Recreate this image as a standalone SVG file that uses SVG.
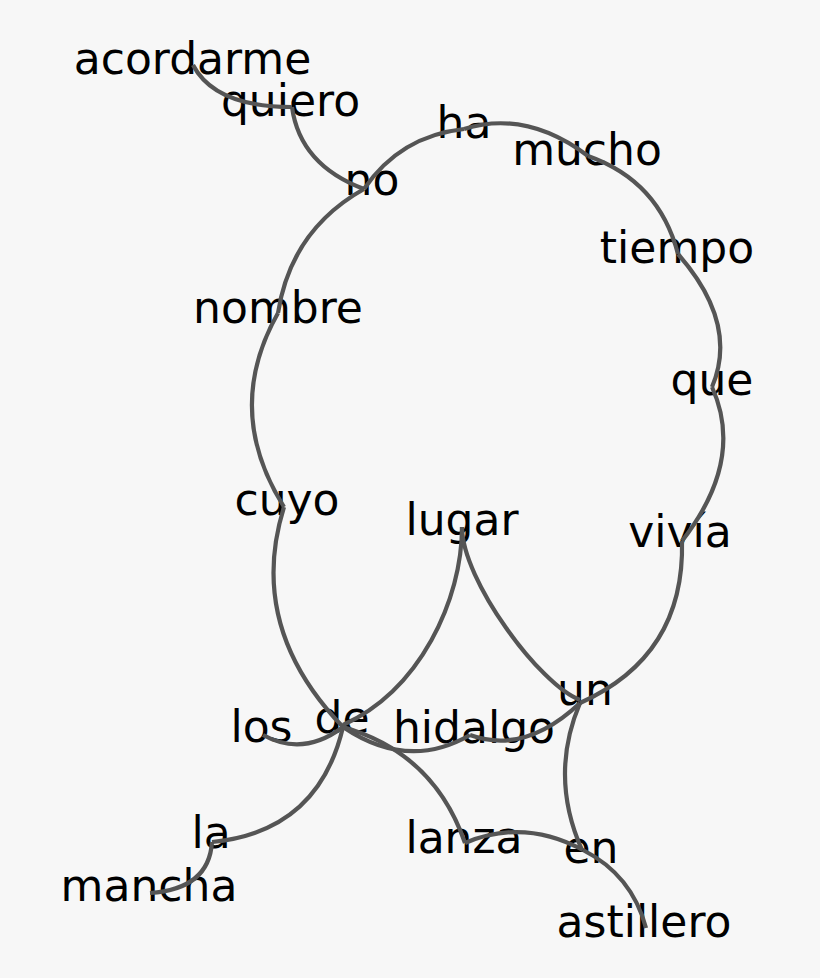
<svg xmlns="http://www.w3.org/2000/svg" width="820" height="978" viewBox="0 0 820 978">
<style>
.w{font-family:"DejaVu Sans","Verdana",sans-serif;font-size:44px;fill:#000;text-anchor:middle}
.e{fill:none;stroke:#555;stroke-width:4.2;stroke-linecap:butt}
</style>
<rect width="820" height="978" fill="#f7f7f7"/>
<g id="nodes">
<g id="n-acordarme"><text class="w" x="192.5" y="74">acordarme</text></g>
<g id="n-quiero"><text class="w" x="290.5" y="116">quiero</text></g>
<g id="n-no"><text class="w" x="372" y="195">no</text></g>
<g id="n-ha"><text class="w" x="464" y="138">ha</text></g>
<g id="n-mucho"><text class="w" x="587" y="165">mucho</text></g>
<g id="n-tiempo"><text class="w" x="677" y="263">tiempo</text></g>
<g id="n-nombre"><text class="w" x="278" y="323">nombre</text></g>
<g id="n-que"><text class="w" x="712" y="395">que</text></g>
<g id="n-cuyo"><text class="w" x="287" y="515">cuyo</text></g>
<g id="n-lugar"><text class="w" x="462" y="535">lugar</text></g>
<g id="n-vivia"><text class="w" x="680" y="547">vivía</text></g>
<g id="n-un"><text class="w" x="585" y="705">un</text></g>
<g id="n-los"><text class="w" x="261.5" y="742">los</text></g>
<g id="n-de"><text class="w" x="342" y="733">de</text></g>
<g id="n-hidalgo"><text class="w" x="474" y="743">hidalgo</text></g>
<g id="n-la"><text class="w" x="211" y="848">la</text></g>
<g id="n-mancha"><text class="w" x="149" y="901">mancha</text></g>
<g id="n-lanza"><text class="w" x="464" y="853">lanza</text></g>
<g id="n-en"><text class="w" x="591" y="863">en</text></g>
<g id="n-astillero"><text class="w" x="644" y="937">astillero</text></g>
</g>
<g id="connectors">
<path class="e" d="M193,65 Q215,107 292,107"/>
<path class="e" d="M292,107 Q300,165 364,189"/>
<path class="e" d="M364,189 Q400,136 464,129"/>
<path class="e" d="M464,129 Q526,109.5 588,156"/>
<path class="e" d="M588,156 Q659,181 678,254"/>
<path class="e" d="M678,254 Q739,323.5 712,387"/>
<path class="e" d="M712,387 Q745,460 682,541"/>
<path class="e" d="M682,541 Q685,656 580,703"/>
<path class="e" d="M364,189 Q291,230 278,313"/>
<path class="e" d="M278,313 Q223,410 284,507"/>
<path class="e" d="M284,507 Q246.5,627 343,727"/>
<path class="e" d="M462,527 C462,600 420,690 343,725"/>
<path class="e" d="M462,527 C462,580 540,685 580,700"/>
<path class="e" d="M343,727 Q303,757 263,735"/>
<path class="e" d="M343,727 Q408,771 470,735"/>
<path class="e" d="M470,735 Q525,755 580,703"/>
<path class="e" d="M343,727 Q318.5,831.5 212,842"/>
<path class="e" d="M212,842 Q209,889 150,893"/>
<path class="e" d="M343,727 Q434,753 465,843"/>
<path class="e" d="M465,843 Q524,818 583,850"/>
<path class="e" d="M580,703 Q549,776 582,850"/>
<path class="e" d="M583,850 Q632,875 646,928"/>
</g>
</svg>
